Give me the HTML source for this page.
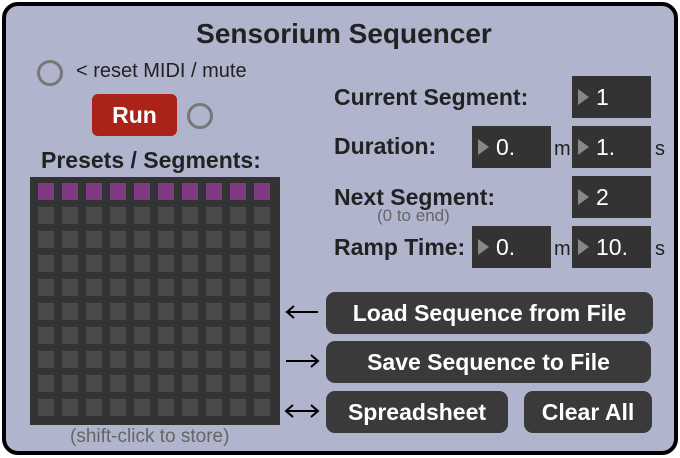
<!DOCTYPE html><html><head><style>
body{margin:0;width:680px;height:458px;background:#fff;font-family:"Liberation Sans",sans-serif;overflow:hidden}
.p{position:absolute;left:2px;top:2px;width:668px;height:445px;background:#b0b4cc;border:4px solid #000;border-radius:16px}
.a{position:absolute}
.t{position:absolute;font-weight:bold;color:#222;font-size:23px;white-space:nowrap}
.nb{position:absolute;width:79px;height:42px;background:#333;color:#fff;font-size:23px;line-height:42px;box-sizing:border-box;padding-left:24px}
.nb:before{content:"";position:absolute;left:6px;top:13px;border-left:11px solid #888;border-top:8px solid transparent;border-bottom:8px solid transparent}
.btn{position:absolute;background:#3a3a3a;color:#fff;font-weight:bold;font-size:23px;border-radius:9px;text-align:center;line-height:42px;height:42px;white-space:nowrap}
.c{position:absolute;width:20px;height:20px;border:3px solid #777;border-radius:50%}
.u{position:absolute;font-size:20px;color:#222}
</style></head><body>
<div class="p"></div>
<div class="t" style="left:0;width:688px;text-align:center;top:18px;font-size:28px">Sensorium Sequencer</div>
<div class="c" style="left:37px;top:60px"></div>
<div class="a" style="left:76px;top:60px;font-size:20px;color:#222">&lt; reset MIDI / mute</div>
<div class="btn" style="left:92px;top:94px;width:85px;background:#aa2218;border-radius:6px;font-size:23px">Run</div>
<div class="c" style="left:187px;top:103px"></div>
<div class="t" style="left:41px;top:147px;font-size:23px">Presets / Segments:</div>
<div class="a" style="left:30px;top:177px;width:250px;height:248px;background:#333"></div>
<svg class="a" style="left:0;top:0" width="680" height="458" id="g"></svg>
<div class="a" style="left:70px;top:426px;font-size:19px;color:#666">(shift-click to store)</div>
<div class="t" style="left:334px;top:84px">Current Segment:</div>
<div class="t" style="left:334px;top:133px">Duration:</div>
<div class="t" style="left:334px;top:184px">Next Segment:</div>
<div class="a" style="left:377px;top:206px;font-size:17px;color:#666">(0 to end)</div>
<div class="t" style="left:334px;top:234px">Ramp Time:</div>
<div class="nb" style="left:572px;top:76px">1</div>
<div class="nb" style="left:472px;top:126px">0.</div><div class="u" style="left:554px;top:138px">m</div>
<div class="nb" style="left:572px;top:126px">1.</div><div class="u" style="left:655px;top:138px">s</div>
<div class="nb" style="left:572px;top:176px">2</div>
<div class="nb" style="left:472px;top:226px">0.</div><div class="u" style="left:554px;top:238px">m</div>
<div class="nb" style="left:572px;top:226px">10.</div><div class="u" style="left:655px;top:238px">s</div>
<div class="btn" style="left:326px;top:292px;width:327px">Load Sequence from File</div>
<div class="btn" style="left:326px;top:341px;width:325px">Save Sequence to File</div>
<div class="btn" style="left:326px;top:391px;width:182px">Spreadsheet</div>
<div class="btn" style="left:524px;top:391px;width:128px">Clear All</div>
<script>
var s='';for(var r=0;r<10;r++)for(var c=0;c<10;c++)s+='<rect x="'+(38+c*24)+'" y="'+(183+r*24)+'" width="16" height="17" fill="'+(r==0?'#7e3a82':'#4a4a4a')+'"/>';
s+='<g stroke="#000" stroke-width="2" fill="none"><path d="M286 312H318M294 306L287 312L294 318"/><path d="M286 361H318M311 355L318 361L311 367"/><path d="M286 411H318M293 405L286 411L293 417M311 405L318 411L311 417"/></g>';
document.getElementById('g').innerHTML=s;
</script>
</body></html>
